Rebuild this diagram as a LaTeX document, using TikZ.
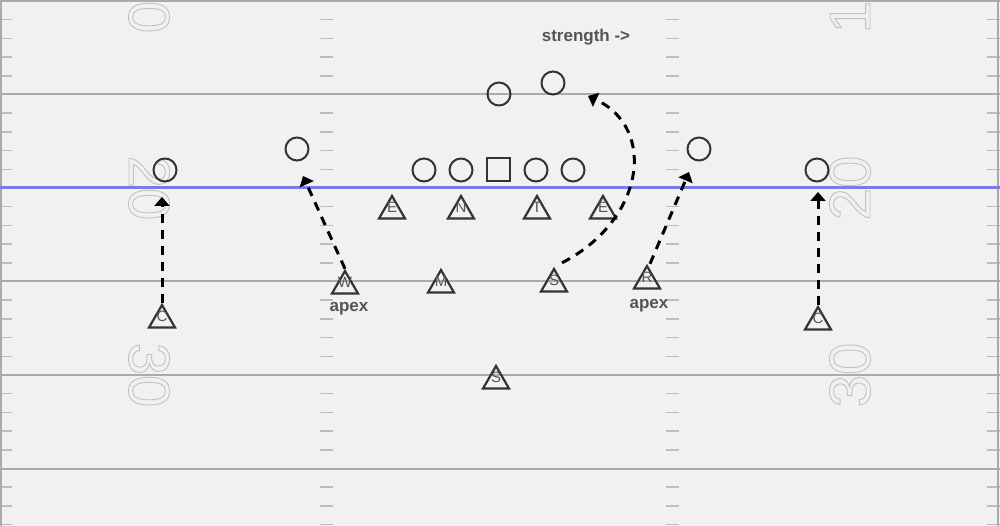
\documentclass[tikz,border=0pt]{standalone}
\usepackage{fontspec}
\setmainfont{Liberation Sans}
\usetikzlibrary{arrows.meta,shapes.geometric}
\definecolor{bg}{HTML}{F1F1F1}
\definecolor{yard}{HTML}{ABABAB}
\definecolor{hashc}{HTML}{BDBDBD}
\definecolor{los}{HTML}{7B7BE6}
\definecolor{ink}{HTML}{333333}
\definecolor{lbl}{HTML}{555555}
\definecolor{numc}{HTML}{C2C2C2}
\newcommand\outlinetext[1]{\special{pdf:literal direct 1 Tr 0.9 w}#1\special{pdf:literal direct 0 Tr}}
\tikzset{
  yardline/.style={draw=yard, line width=2pt},
  hashline/.style={draw=hashc, line width=1.5pt},
  losline/.style={draw=los, line width=3pt},
  fieldnum/.style={text=numc, inner sep=0pt, font=\fontsize{58}{58}\selectfont},
  off/.style={circle, draw=ink, line width=2pt, minimum size=23pt, inner sep=0pt},
  ctr/.style={rectangle, draw=ink, line width=2pt, minimum size=23pt, inner sep=0pt},
  letter/.style={text=lbl, inner sep=0pt, font=\fontsize{15}{15}\selectfont},
  defn/.style={regular polygon, regular polygon sides=3, draw=ink, line width=2.2pt,
    minimum size=30pt, inner sep=0pt, label={[letter, yshift=4pt]center:#1}},
  tag/.style={text=lbl, inner sep=0pt, font=\bfseries\fontsize{17}{17}\selectfont},
  route/.style={draw=black, line width=3pt, dash pattern=on 9pt off 7pt,
    -{Triangle[length=9pt,width=15pt]}}
}
\begin{document}
\begin{tikzpicture}[x=1pt,y=-1pt]
\useasboundingbox (0,0) rectangle (1000,526);
\begin{scope}
\clip (0,0) rectangle (1000,526);
\fill[bg] (0,0) rectangle (1000,526);
% field numbers
\node[fieldnum, rotate=-90] (n10L) at (149,1) {\outlinetext{10}};
\node[fieldnum, rotate=-90] (n20L) at (149,188) {\outlinetext{20}};
\node[fieldnum, rotate=-90] (n30L) at (149,375) {\outlinetext{30}};
\node[fieldnum, rotate=90] (n10R) at (850,1) {\outlinetext{10}};
\node[fieldnum, rotate=90] (n20R) at (850,188) {\outlinetext{20}};
\node[fieldnum, rotate=90] (n30R) at (850,375) {\outlinetext{30}};
% hash marks
\foreach \b in {1,94.5,188,281.5,375,468.5}{
  \foreach \j in {1,2,3,4}{
    \draw[hashline] (0,{\b+18.7*\j}) -- (12,{\b+18.7*\j});
    \draw[hashline] (320,{\b+18.7*\j}) -- (333,{\b+18.7*\j});
    \draw[hashline] (666,{\b+18.7*\j}) -- (679,{\b+18.7*\j});
    \draw[hashline] (987,{\b+18.7*\j}) -- (1000,{\b+18.7*\j});
  }
}
% yard lines and borders
\foreach \b in {1,94.5,281.5,375,468.5}{
  \draw[yardline] (0,\b) -- (1000,\b);
}
\draw[yardline] (1,0) -- (1,526);
\draw[yardline] (998,0) -- (998,526);
\draw[losline] (0,188) -- (1000,188);
\end{scope}
% label
\node[tag] (str) at (586,37) {strength ->};
% offense
\node[off] (o1) at (165,170) {};
\node[off] (o2) at (297,149) {};
\node[off] (o3) at (424,170) {};
\node[off] (o4) at (461,170) {};
\node[ctr] (o5) at (498,170) {};
\node[off] (o6) at (536,170) {};
\node[off] (o7) at (573,170) {};
\node[off] (o8) at (499,94) {};
\node[off] (o9) at (553,83) {};
\node[off] (o10) at (699,149) {};
\node[off] (o11) at (817,170) {};
% defense
\node[defn=C] (cL) at (162,320) {};
\node[defn=W] (w) at (345,286) {};
\node[defn=E] (e1) at (392,211) {};
\node[defn=N] (n) at (461,211) {};
\node[defn=T] (t) at (537,211) {};
\node[defn=E] (e2) at (603,211) {};
\node[defn=M] (m) at (441,285) {};
\node[defn=S] (s1) at (554,284) {};
\node[defn=R] (r) at (647,281) {};
\node[defn=S] (s2) at (496,381) {};
\node[defn=C] (cR) at (818,322) {};
\node[tag] (apexW) at (349,309) {apex};
\node[tag] (apexR) at (649,306) {apex};
% route ends
\coordinate (cLend) at (162,197);
\coordinate (cRend) at (818,192);
\coordinate (wend) at (303,176);
\coordinate (rend) at (689,172);
\coordinate (s1end) at (588,96);
% routes
\draw[route] (cL.north) -- (cLend);
\draw[route] (cR.north) -- (cRend);
\draw[route] (w.north) -- (wend);
\draw[route] ([xshift=3pt]r.north) -- (rend);
\draw[route] ([xshift=8pt,yshift=4pt]s1.north) .. controls (645,220) and (657,128) .. (s1end);
\end{tikzpicture}
\end{document}
